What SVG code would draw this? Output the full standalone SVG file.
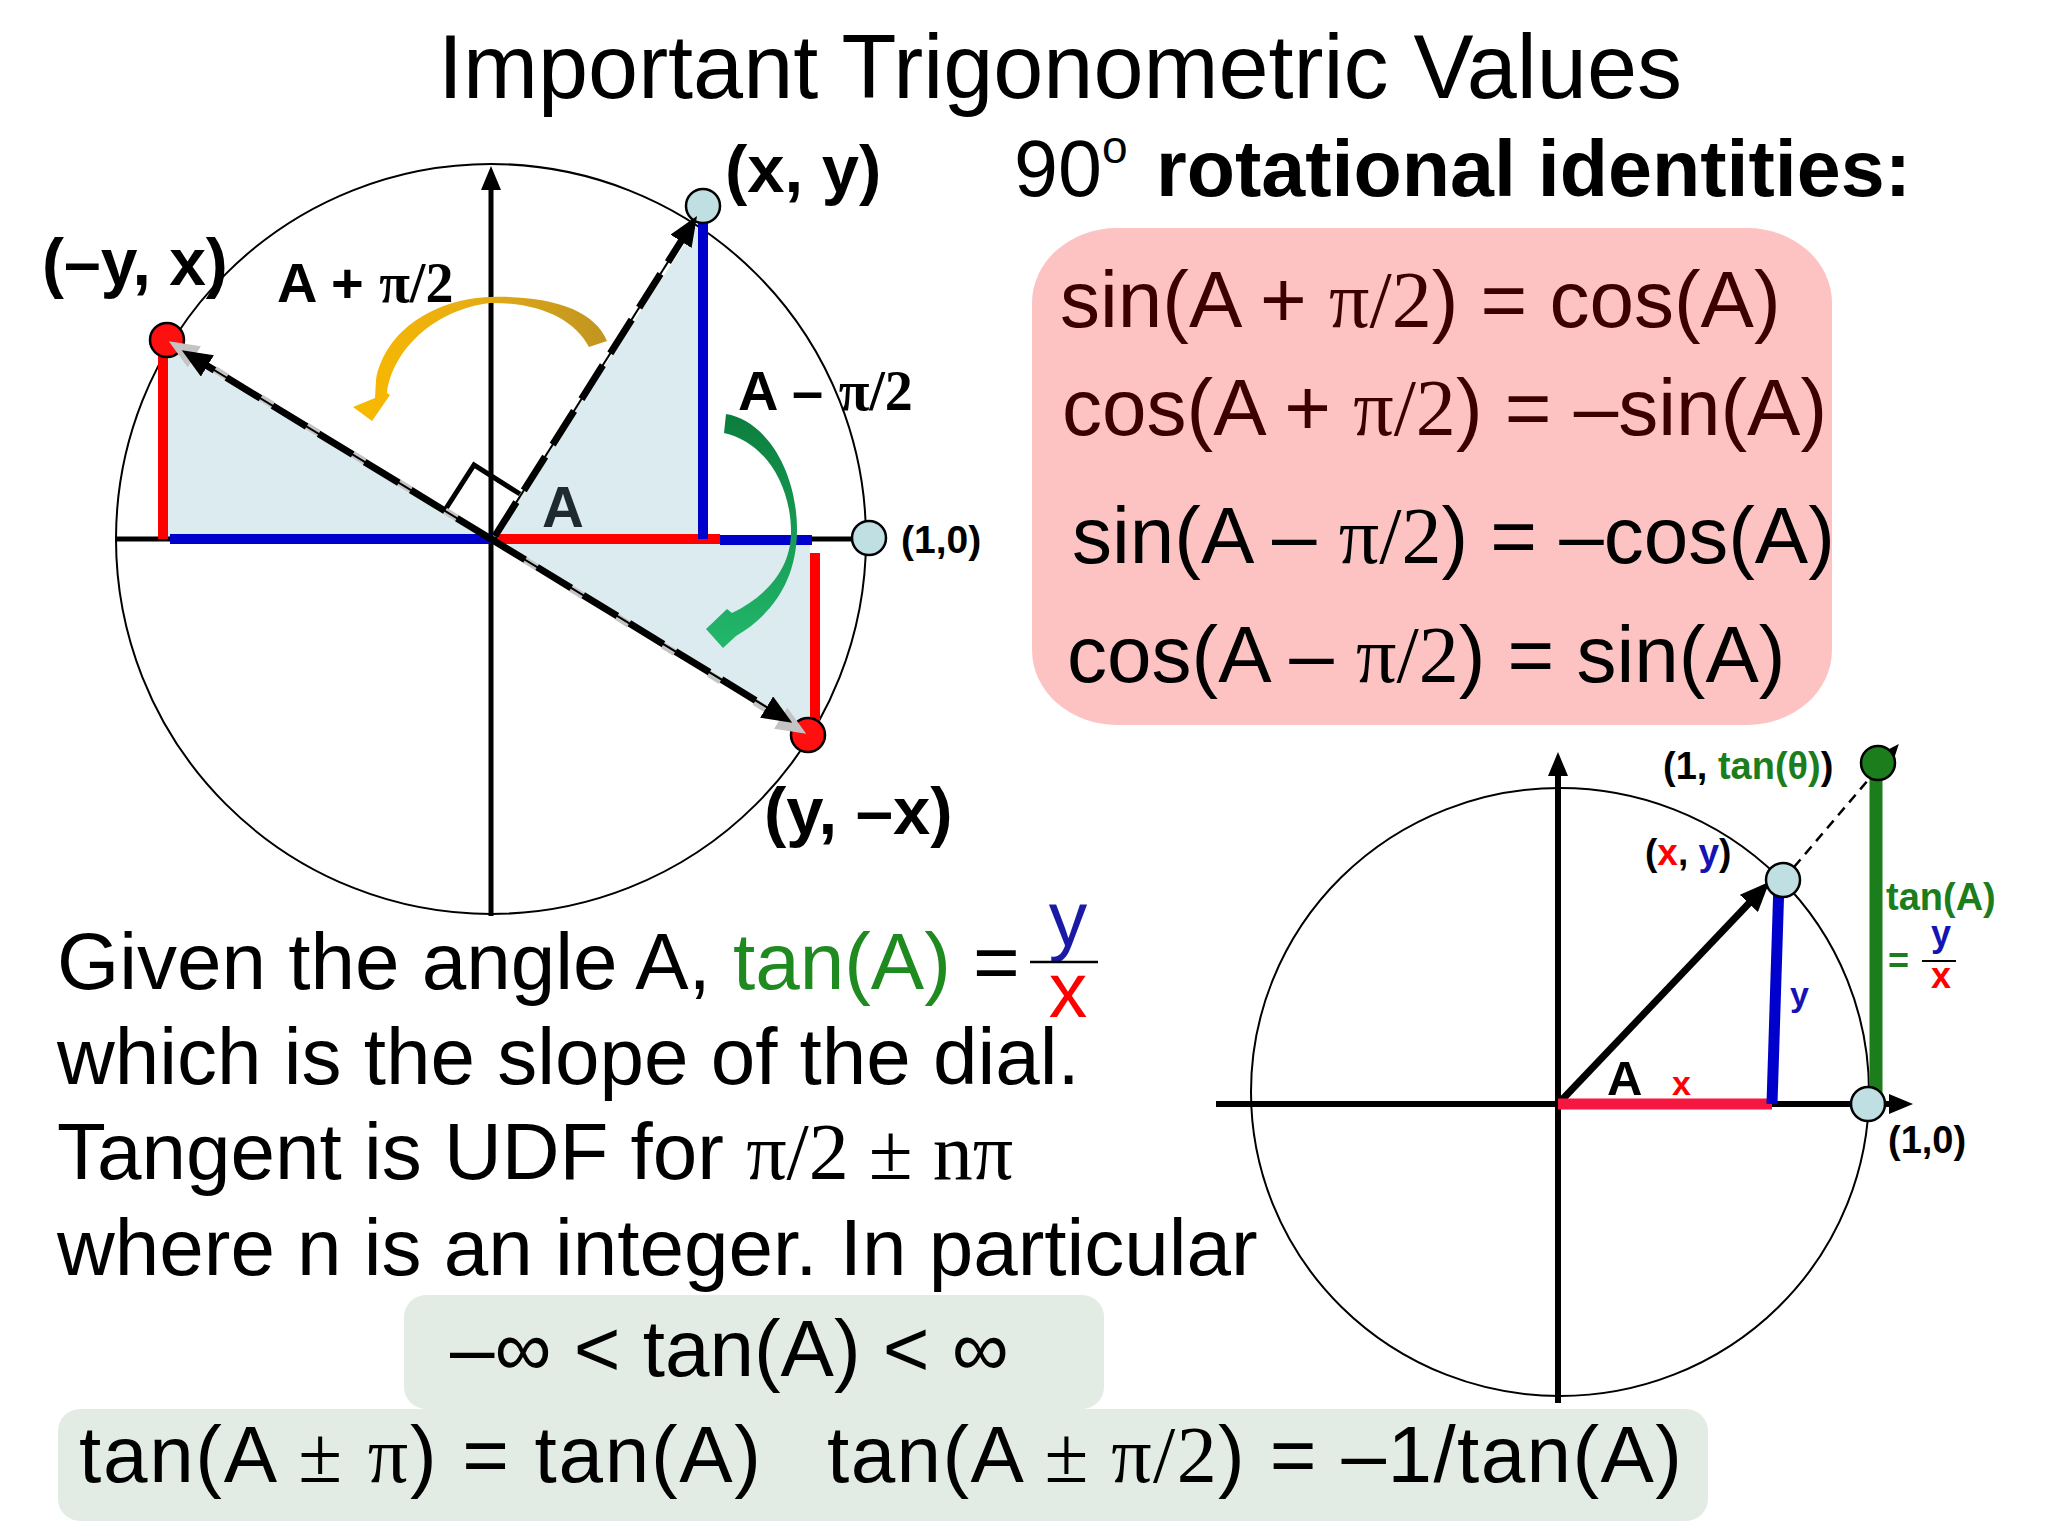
<svg xmlns="http://www.w3.org/2000/svg" width="2048" height="1536" viewBox="0 0 2048 1536">
<defs>
<style>
.sans{font-family:"Liberation Sans",Arial,sans-serif}
.serif{font-family:"Liberation Serif","Times New Roman",serif}
.b{font-weight:bold}
.ax{stroke:#000;stroke-width:5;fill:none}
.circ{stroke:#000;stroke-width:2;fill:none}
.pt{fill:#BFDFE2;stroke:#000;stroke-width:2.5}
.rpt{fill:#FF1010;stroke:#000;stroke-width:2.5}
.tri{fill:#DCEBEF}
.blue{stroke:#0000CC;stroke-width:10;fill:none}
.red{stroke:#FF0000;stroke-width:10;fill:none}
.dthin{stroke:#000;stroke-width:2;fill:none}
.dthick{stroke:#000;stroke-width:7;fill:none;stroke-dasharray:40 14}
.dgray{stroke:#C4C4C4;stroke-width:7;fill:none;stroke-dasharray:14 40;stroke-dashoffset:-40}
.id{font-size:80px}
.body{font-size:80px}
</style>
<marker id="ah" viewBox="0 0 12 10" refX="3" refY="5" markerWidth="30" markerHeight="25" markerUnits="userSpaceOnUse" orient="auto"><path d="M0,0 L12,5 L0,10 Z" fill="#000"/></marker>
<marker id="ahg" viewBox="0 0 12 10" refX="3" refY="5" markerWidth="30" markerHeight="25" markerUnits="userSpaceOnUse" orient="auto"><path d="M0,0 L12,5 L0,10 Z" fill="#C4C4C4"/></marker>
<marker id="axh" viewBox="0 0 12 10" refX="3" refY="5" markerWidth="24" markerHeight="20" markerUnits="userSpaceOnUse" orient="auto"><path d="M0,0 L12,5 L0,10 Z" fill="#000"/></marker>
<marker id="sm" viewBox="0 0 12 10" refX="3" refY="5" markerWidth="14" markerHeight="12" markerUnits="userSpaceOnUse" orient="auto"><path d="M0,0 L12,5 L0,10 Z" fill="#000"/></marker>
<linearGradient id="gold" gradientUnits="userSpaceOnUse" x1="600" y1="340" x2="370" y2="410"><stop offset="0" stop-color="#C29620"/><stop offset="0.5" stop-color="#E9AE12"/><stop offset="1" stop-color="#F7B800"/></linearGradient>
<linearGradient id="grn" gradientUnits="userSpaceOnUse" x1="725" y1="415" x2="710" y2="640"><stop offset="0" stop-color="#0C7E3E"/><stop offset="1" stop-color="#22B66A"/></linearGradient>
</defs>
<rect width="2048" height="1536" fill="#fff"/>

<g id="title" class="sans">
<text x="1060" y="98" text-anchor="middle" font-size="90">Important Trigonometric Values</text>
</g>

<g id="left-diagram">
<polygon class="tri" points="491,539 703,216 703,539"/>
<polygon class="tri" points="491,539 168,345 168,539"/>
<polygon class="tri" points="491,539 810,544 810,735"/>
<circle class="circ" cx="491" cy="539" r="375"/>
<line class="ax" x1="115" y1="539" x2="868" y2="539"/>
<line class="ax" x1="491" y1="916" x2="491" y2="184" marker-end="url(#axh)"/>
<line class="blue" x1="170" y1="539" x2="491" y2="539"/>
<line class="red" x1="497" y1="539" x2="720" y2="539"/>
<line class="blue" x1="720" y1="540" x2="812" y2="540"/>
<line class="blue" x1="703" y1="216" x2="703" y2="539"/>
<line class="red" x1="163" y1="343" x2="163" y2="539"/>
<line class="red" x1="815" y1="553" x2="815" y2="730"/>
<polyline points="445,510 474,465 520,494" fill="none" stroke="#000" stroke-width="5"/>
<circle class="pt" cx="703" cy="206" r="17"/>
<circle class="rpt" cx="167" cy="340" r="17"/>
<circle class="rpt" cx="808" cy="735" r="17"/>
<circle class="pt" cx="869" cy="538" r="17"/>
</g>

<g id="connectors">
<line class="dthin" x1="495" y1="536" x2="685" y2="235"/>
<line class="dthick" x1="495" y1="536" x2="685" y2="235" marker-end="url(#ah)"/>
<line class="dgray" x1="491" y1="539" x2="188" y2="353" marker-end="url(#ahg)"/>
<line class="dthin" x1="491" y1="539" x2="201" y2="362"/>
<line class="dthick" x1="491" y1="539" x2="201" y2="362" marker-end="url(#ah)"/>
<line class="dgray" x1="491" y1="539" x2="787" y2="722" marker-end="url(#ahg)"/>
<line class="dthin" x1="491" y1="539" x2="773" y2="711"/>
<line class="dthick" x1="491" y1="539" x2="773" y2="711" marker-end="url(#ah)"/>
<path d="M607,341 C595,310 550,295 490,297 C435,299 385,330 376,380 L375,398 L353,407 L372,421 L390,395 L387,393 C392,352 432,310 490,303 C540,302 575,320 589,347 Z" fill="url(#gold)"/>
<path d="M726,414 C765,420 797,470 797,530 C797,580 772,615 736,636 L723,648 L706,629 L727,609 L732,613 C765,597 791,570 791,532 C791,485 765,442 724,433 Z" fill="url(#grn)"/>
<line x1="1558" y1="1104" x2="1754" y2="898" stroke="#000" stroke-width="7" marker-end="url(#ah)"/>
<line x1="1783" y1="880" x2="1892" y2="752" stroke="#000" stroke-width="2.5" stroke-dasharray="10 7" marker-end="url(#sm)"/>
</g>

<g id="left-labels" class="sans b">
<text x="725" y="192" font-size="67">(x, y)</text>
<text x="42" y="285" font-size="66">(–y, x)</text>
<text x="764" y="834" font-size="67">(y, –x)</text>
<text x="277" y="302" font-size="56">A + <tspan class="serif">π/2</tspan></text>
<text x="738" y="410" font-size="56">A – <tspan class="serif">π/2</tspan></text>
<text x="542" y="527" font-size="58" fill="#1F2A30">A</text>
<text x="901" y="553" font-size="39">(1,0)</text>
</g>

<g id="identities" class="sans">
<text x="1014" y="196" font-size="79">90<tspan font-size="46" dy="-33">o</tspan><tspan x="1156" dy="33" font-weight="bold">rotational identities:</tspan></text>
<rect x="1032" y="228" width="800" height="497" rx="85" ry="75" fill="#FDC3C3"/>
<text class="id" x="1060" y="327" fill="#3D0000">sin(A + <tspan class="serif">π/2</tspan>) = cos(A)</text>
<text class="id" x="1062" y="435" fill="#3D0000">cos(A + <tspan class="serif">π/2</tspan>) = –sin(A)</text>
<text class="id" x="1072" y="563">sin(A – <tspan class="serif">π/2</tspan>) = –cos(A)</text>
<text class="id" x="1067" y="682">cos(A – <tspan class="serif">π/2</tspan>) = sin(A)</text>
</g>

<g id="right-diagram">
<ellipse class="circ" cx="1560" cy="1092" rx="309" ry="304"/>
<line x1="1216" y1="1104" x2="1895" y2="1104" stroke="#000" stroke-width="6" marker-end="url(#axh)"/>
<line x1="1558" y1="1403" x2="1558" y2="770" stroke="#000" stroke-width="6" marker-end="url(#axh)"/>
<line x1="1558" y1="1104" x2="1772" y2="1104" stroke="#F5173F" stroke-width="11"/>
<line x1="1779" y1="882" x2="1772" y2="1104" stroke="#0000CC" stroke-width="11"/>
<line x1="1876" y1="770" x2="1876" y2="1104" stroke="#1C7D1C" stroke-width="13"/>
<circle class="pt" cx="1783" cy="880" r="17"/>
<circle class="pt" cx="1868" cy="1104" r="17"/>
<circle cx="1878" cy="763" r="17" fill="#1C7D1C" stroke="#000" stroke-width="2.5"/>
</g>

<g id="right-labels" class="sans b">
<text x="1663" y="779" font-size="38">(1, <tspan fill="#1C7D1C">tan(θ)</tspan>)</text>
<text x="1645" y="865" font-size="37">(<tspan fill="#FF0000">x</tspan>, <tspan fill="#1414B4">y</tspan>)</text>
<text x="1886" y="910" font-size="38" fill="#1C7D1C">tan(A)</text>
<text x="1888" y="973" font-size="36" fill="#1C7D1C">=</text>
<text x="1941" y="946" font-size="36" fill="#1414B4" text-anchor="middle">y</text>
<line x1="1922" y1="961" x2="1956" y2="961" stroke="#000" stroke-width="2"/>
<text x="1941" y="988" font-size="36" fill="#FF0000" text-anchor="middle">x</text>
<text x="1790" y="1006" font-size="34" fill="#1414B4">y</text>
<text x="1672" y="1095" font-size="34" fill="#FF0000">x</text>
<text x="1607" y="1095" font-size="49">A</text>
<text x="1888" y="1153" font-size="38">(1,0)</text>
</g>

<g id="explanation" class="sans body">
<text x="57" y="989">Given the angle A, <tspan fill="#1F8A1F">tan(A)</tspan> = </text>
<text x="1068" y="946" font-size="77" fill="#1A1AA6" text-anchor="middle">y</text>
<line x1="1030" y1="962" x2="1098" y2="962" stroke="#000" stroke-width="2.5"/>
<text x="1068" y="1017" font-size="77" fill="#FF0000" text-anchor="middle">x</text>
<text x="57" y="1084">which is the slope of the dial.</text>
<text x="57" y="1179">Tangent is UDF for <tspan class="serif">π/2 ± nπ</tspan></text>
<text x="57" y="1275">where n is an integer. In particular</text>
</g>

<g id="tan-range" class="sans body">
<rect x="404" y="1295" width="700" height="114" rx="22" fill="#E2EBE4"/>
<text x="450" y="1376">–∞ &lt; tan(A) &lt; ∞</text>
</g>

<g id="tan-shift" class="sans body">
<rect x="58" y="1409" width="1650" height="112" rx="22" fill="#E2EBE4"/>
<text x="79" y="1482" textLength="682" lengthAdjust="spacing">tan(A <tspan class="serif">±</tspan> <tspan class="serif">π</tspan>) = tan(A)</text>
<text x="827" y="1482" textLength="855" lengthAdjust="spacing">tan(A <tspan class="serif">± π/2</tspan>) = –1/tan(A)</text>
</g>
</svg>
